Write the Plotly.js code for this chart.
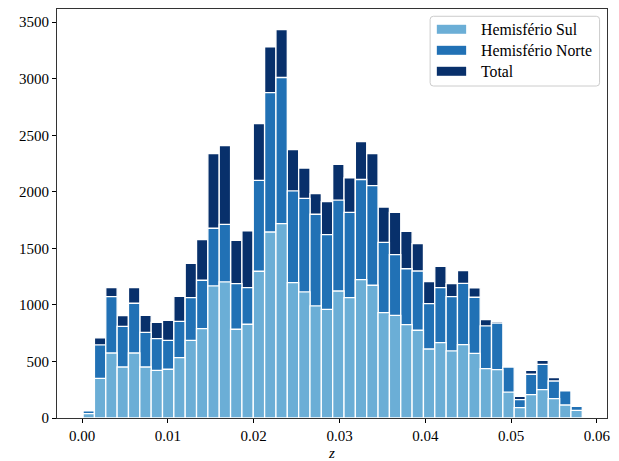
<!DOCTYPE html>
<html>
<head>
<meta charset="utf-8">
<script src="https://cdn.plot.ly/plotly-3.0.1.min.js"></script>
<style>html,body{margin:0;padding:0;background:#fff;}#chart{width:619px;height:461px;}</style>
</head>
<body>
<div id="chart"></div>
<script>
// Histogram bins (z)
const binStart = 0.00012;
const binWidth = 0.001322;

// Counts per bin
const sul = [38, 351, 575, 451, 575, 451, 422, 431, 534, 687, 791, 1168, 1203, 785, 829, 1298, 1645, 1719, 1197, 1115, 991, 961, 1123, 1065, 1224, 1174, 932, 908, 826, 776, 610, 667, 593, 649, 572, 437, 428, 229, 92, 207, 251, 172, 115, 68];
const norte = [64, 646, 1074, 811, 1015, 758, 702, 687, 855, 1065, 1218, 1678, 1713, 1189, 1153, 2102, 2878, 3011, 2008, 1943, 1802, 1622, 1926, 1819, 2109, 2055, 1554, 1445, 1320, 1300, 1012, 1153, 1074, 1191, 1068, 814, 840, 451, 163, 387, 475, 327, 239, 103];
const total = [68, 708, 1153, 906, 1153, 908, 846, 864, 1076, 1368, 1578, 2338, 2409, 1572, 1654, 2604, 3282, 3435, 2374, 2211, 1985, 1914, 2244, 2123, 2445, 2338, 1866, 1819, 1650, 1542, 1206, 1342, 1189, 1303, 1150, 870, 855, 451, 192, 422, 510, 357, 239, 103];

const seriesNames = ["Hemisfério Sul", "Hemisfério Norte", "Total"];
const yTicks = [0, 500, 1000, 1500, 2000, 2500, 3000, 3500];
const xTicks = [0.00, 0.01, 0.02, 0.03, 0.04, 0.05, 0.06];

const colors = {sul: "#6baed6", norte: "#2171b5", total: "#08306b"};
const centers = sul.map((_, i) => binStart + binWidth * (i + 0.5));

function barTrace(name, y, color) {
  return {
    type: "bar", name: name, x: centers, y: y, width: binWidth,
    marker: {color: color, line: {color: "#ffffff", width: 1.3}},
    showlegend: false, hoverinfo: "x+y+name"
  };
}

const data = [
  barTrace(seriesNames[2], total, colors.total),
  barTrace(seriesNames[1], norte, colors.norte),
  barTrace(seriesNames[0], sul, colors.sul)
];

const font = {family: "Liberation Serif, DejaVu Serif, serif", size: 15, color: "#000"};
const legendFont = {family: "Liberation Serif, DejaVu Serif, serif", size: 15.8, color: "#000"};

// Legend (drawn in paper coordinates)
const lx0 = 0.6784, lx1 = 0.9865, ly0 = 0.8117, ly1 = 0.9822;
const rx = 0.006, ry = 0.008;
const legendPath = `M ${lx0+rx},${ly0} L ${lx1-rx},${ly0} Q ${lx1},${ly0} ${lx1},${ly0+ry} L ${lx1},${ly1-ry} Q ${lx1},${ly1} ${lx1-rx},${ly1} L ${lx0+rx},${ly1} Q ${lx0},${ly1} ${lx0},${ly1-ry} L ${lx0},${ly0+ry} Q ${lx0},${ly0} ${lx0+rx},${ly0} Z`;
const rowY = [0.9504, 0.8990, 0.8477];
const rowColors = [colors.sul, colors.norte, colors.total];
const shapes = [{type: "path", xref: "paper", yref: "paper", path: legendPath,
  fillcolor: "rgba(255,255,255,0.8)", line: {color: "#cccccc", width: 1}, layer: "above"}];
const annotations = [];
rowY.forEach((yy, i) => {
  shapes.push({type: "rect", xref: "paper", yref: "paper", x0: 0.6906, x1: 0.7439,
    y0: yy - 0.011, y1: yy + 0.011, fillcolor: rowColors[i], line: {width: 0}, layer: "above"});
  annotations.push({xref: "paper", yref: "paper", x: 0.7681, y: yy, xanchor: "left", yanchor: "middle",
    text: seriesNames[i], showarrow: false, font: legendFont});
});

const layout = {
  width: 619, height: 461,
  margin: {l: 57, r: 12, t: 9, b: 43},
  paper_bgcolor: "#fff", plot_bgcolor: "#fff",
  barmode: "overlay", bargap: 0,
  font: font,
  xaxis: {
    range: [-0.00292, 0.06117], tickvals: xTicks, tickformat: ".2f",
    showgrid: false, zeroline: false, showline: true, mirror: true,
    linecolor: "#333", linewidth: 1.1, ticks: "outside", ticklen: 4, tickwidth: 1, tickcolor: "#000",
    tickfont: font, title: {text: "<i>z</i>", font: font, standoff: 5}
  },
  yaxis: {
    range: [0, 3617], tickvals: yTicks,
    showgrid: false, zeroline: false, showline: true, mirror: true,
    linecolor: "#333", linewidth: 1.1, ticks: "outside", ticklen: 4, tickwidth: 1, tickcolor: "#000",
    tickfont: font
  },
  shapes: shapes, annotations: annotations,
  showlegend: false
};

Plotly.newPlot("chart", data, layout, {displayModeBar: false, staticPlot: true});
</script>
</body>
</html>
